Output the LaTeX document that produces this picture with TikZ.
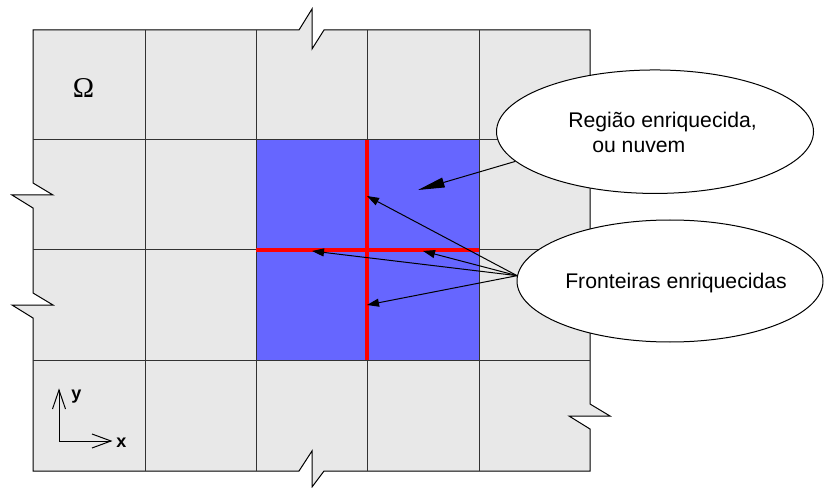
\documentclass[tikz,border=0pt]{standalone}
\usepackage{fontspec}
\setmainfont{Liberation Sans}
\newfontfamily\omegafont{Liberation Serif}
\usetikzlibrary{shapes.geometric,arrows.meta}
\definecolor{cellgray}{RGB}{232,232,232}
\definecolor{cloudblue}{RGB}{102,102,255}
\definecolor{gridline}{RGB}{50,50,50}
\tikzset{
  cell/.style={draw=gridline,line width=0.75pt},
  bubble/.style={ellipse,draw,fill=white,line width=0.75pt,inner sep=0pt},
  caption/.style={font=\fontsize{15.9}{19}\selectfont,inner sep=0pt,anchor=base west},
  axislabel/.style={font=\bfseries\fontsize{13.5}{16}\selectfont,inner sep=0pt,anchor=base west},
  pointer/.style={line width=0.75pt,-{Triangle[length=9pt,width=6pt]}},
  bigpointer/.style={line width=0.75pt,-{Triangle[length=20pt,width=7.5pt]}},
  axis/.style={line width=0.75pt},
  boundary/.style={red,line width=3pt}
}
\begin{document}
\begin{tikzpicture}[x=0.75pt,y=-0.75pt]
\useasboundingbox (0,0) rectangle (824,488);
\fill[white] (0,0) rectangle (824,488);

% mesh domain, with break marks on its outline
\filldraw[fill=cellgray,draw=black,line width=0.75pt,line join=miter]
  (33,30) -- (299,30) -- (312,9) -- (312,49) -- (324,30) -- (590,30)
  -- (590,404) -- (610,416) -- (569,416) -- (590,429) -- (590,471)
  -- (324,471) -- (312,487) -- (312,451) -- (299,471) -- (33,471)
  -- (33,318) -- (12,305) -- (53,305) -- (33,293)
  -- (33,208) -- (12,195) -- (53,195) -- (33,183) -- cycle;

% enriched region (four elements)
\fill[cloudblue] (256,140) rectangle (479,360);

% element edges
\foreach \gx in {145,256,367,479} \draw[cell] (\gx,30) -- (\gx,471);
\foreach \gy in {140,250,360} \draw[cell] (33,\gy) -- (590,\gy);

% enriched boundaries
\draw[boundary] (367,140) -- (367,360);
\draw[boundary] (256,250) -- (479,250);

% domain symbol
\node[font=\omegafont\fontsize{21.5}{24}\selectfont,inner sep=0pt] (omega) at (83.5,88) {Ω};

% coordinate axes with open V heads
\coordinate (origin) at (59,441);
\coordinate (yend) at (59,390);
\coordinate (xend) at (111,441);
\draw[axis] (origin) -- (yend);
\draw[axis] (origin) -- (xend);
\draw[axis] (yend) ++(-6.5,19) -- (yend) -- ++(6.5,19);
\draw[axis] (xend) ++(-19,-7) -- (xend) -- ++(-19,7);
\node[axislabel] (ylab) at (71,399.5) {y};
\node[axislabel] (xlab) at (116,447) {x};

% callouts
\node[bubble,minimum width=237.75pt,minimum height=92.6pt] (nuvem) at (655,131.7) {};
\node[caption] (nuvemA) at (568,128) {Região enriquecida,};
\node[caption] (nuvemB) at (592,153) {ou nuvem};

\node[bubble,minimum width=229.5pt,minimum height=91.5pt] (fronteiras) at (670,281) {};
\node[caption] (fronteirasT) at (565,288) {Fronteiras enriquecidas};

% arrow targets
\coordinate (c0) at (418,190);
\coordinate (c1) at (367,196);
\coordinate (c2) at (312,251);
\coordinate (c3) at (423,251);
\coordinate (c4) at (367,305);

\draw[bigpointer] (nuvem.192) -- (c0);
\draw[pointer] (fronteiras.178) -- (c1);
\draw[pointer] (fronteiras.178) -- (c2);
\draw[pointer] (fronteiras.178) -- (c3);
\draw[pointer] (fronteiras.178) -- (c4);
\end{tikzpicture}
\end{document}
